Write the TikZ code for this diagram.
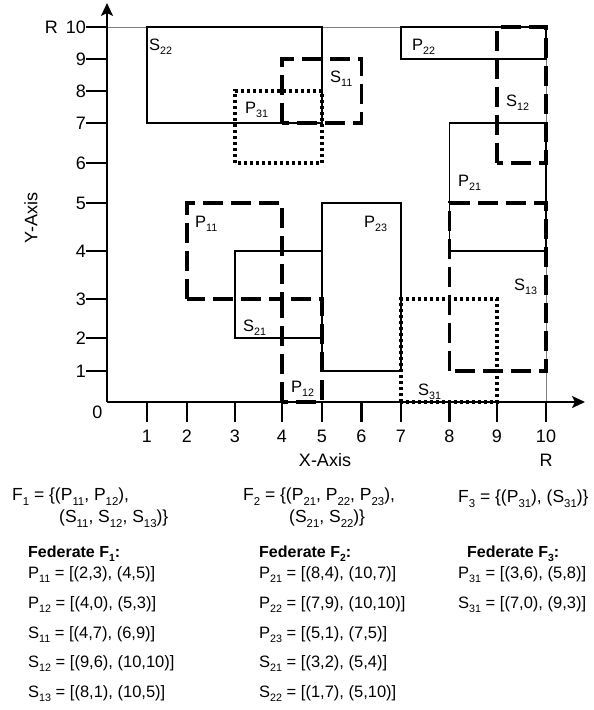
\documentclass[tikz,border=0pt]{standalone}
\usepackage{fontspec}
\usepackage{graphicx}
\setmainfont{Liberation Sans}
\usetikzlibrary{arrows.meta}
\newcommand{\sbs}[1]{\raisebox{-0.3em}{\scalebox{0.65}{#1}}}
\begin{document}
\begin{tikzpicture}[x=1pt,y=-1pt,
  solidbox/.style={line width=1.7pt},
  dashbox/.style={line width=3.3pt,dash pattern=on 20pt off 8pt},
  dotbox/.style={line width=3.5pt,dash pattern=on 3pt off 3pt},
  axisline/.style={line width=2.2pt},
  rline/.style={line width=0.9pt,gray},
  lbl/.style={font=\fontsize{16.5}{19}\selectfont,inner sep=0pt,anchor=base west},
  ticklbl/.style={font=\fontsize{18}{21}\selectfont,inner sep=0pt},
  ftext/.style={font=\fontsize{17.5}{20}\selectfont,inner sep=0pt,anchor=base west},
  htext/.style={font=\fontsize{16}{19}\selectfont\bfseries,inner sep=0pt,anchor=base west},
  ltext/.style={font=\fontsize{16.5}{19}\selectfont,inner sep=0pt,anchor=base west},
]
\useasboundingbox (0,0) rectangle (594,710);
% grid coordinates
\foreach \i/\v in {0/107,1/147,2/187,3/235,4/282,5/322,6/361.5,7/401,8/449.5,9/497,10/546}
  \coordinate (X\i) at (\v,402);
\foreach \i/\v in {0/402,1/371,2/338,3/299,4/251,5/203,6/163,7/123,8/91,9/59,10/27}
  \coordinate (Y\i) at (107,\v);
\coordinate (xtip) at (585,402);
\coordinate (ytip) at (107,3);
% region R
\draw[rline] (Y10) -- (X10|-Y10) -- (X10);
% rectangles
\draw[solidbox] (X1|-Y7) rectangle (X5|-Y10);   % S22
\draw[solidbox] (X7|-Y9) rectangle (X10|-Y10);  % P22
\draw[solidbox] (X8|-Y4) rectangle (X10|-Y7);   % P21
\draw[solidbox] (X5|-Y1) rectangle (X7|-Y5);    % P23
\draw[solidbox] (X3|-Y2) rectangle (X5|-Y4);    % S21
\draw[dashbox] (X4|-Y7) rectangle (X6|-Y9);     % S11
\draw[dashbox] (X9|-Y6) rectangle (X10|-Y10);   % S12
\draw[dashbox] (X8|-Y1) rectangle (X10|-Y5);    % S13
\draw[dashbox] (X2|-Y3) rectangle (X4|-Y5);     % P11
\draw[dashbox] (X4|-Y0) rectangle (X5|-Y3);     % P12
\draw[dotbox] (X3|-Y6) rectangle (X5|-Y8);      % P31
\draw[dotbox] (X7|-Y0) rectangle (X9|-Y3);      % S31
% axes
\draw[axisline,-{Stealth[length=13pt,width=12pt,inset=3pt]}] (X0) -- (xtip);
\draw[axisline,-{Stealth[length=13pt,width=12pt,inset=3pt]}] (Y0) -- (ytip);
\foreach \i/\v in {1/147,2/187,3/235,4/282,5/322,6/361.5,7/401,8/449.5,9/497,10/546}{
  \draw[axisline] (X\i) -- ++(0,20);
  \node[ticklbl] (xl\i) at (\v,436) {\i};
}
\foreach \i/\v in {1/371,2/338,3/299,4/251,5/203,6/163,7/123,8/91,9/59}{
  \draw[axisline] (Y\i) -- ++(-21,0);
  \node[ticklbl,anchor=east] (yl\i) at (86,\v) {\i};
}
\draw[axisline] (Y10) -- ++(-21,0);
\node[ticklbl,anchor=east] (yl10) at (86,27) {R\hspace{8pt}10};
\node[ticklbl] (zero) at (97.5,412) {0};
\node[ticklbl] (rlabel) at (546,460) {R};
\node[ticklbl] (xaxis) at (325,460) {X-Axis};
\node[ticklbl,rotate=90] (yaxis) at (31,218) {Y-Axis};
% region labels
\node[lbl] (lS22) at (149,50) {S\sbs{22}};
\node[lbl] (lP31) at (245,113) {P\sbs{31}};
\node[lbl] (lS11) at (330,82) {S\sbs{11}};
\node[lbl] (lP22) at (412,50) {P\sbs{22}};
\node[lbl] (lS12) at (506,106) {S\sbs{12}};
\node[lbl] (lP21) at (458,186) {P\sbs{21}};
\node[lbl] (lP11) at (195,227) {P\sbs{11}};
\node[lbl] (lP23) at (364,227) {P\sbs{23}};
\node[lbl] (lS13) at (514,290) {S\sbs{13}};
\node[lbl] (lS21) at (243,331) {S\sbs{21}};
\node[lbl] (lP12) at (291,392) {P\sbs{12}};
\node[lbl] (lS31) at (418,395) {S\sbs{31}};
% federation sets
\node[ftext] (f1a) at (12,500) {F\sbs{1} = \{(P\sbs{11}, P\sbs{12}),};
\node[ftext] (f1b) at (59,522) {(S\sbs{11}, S\sbs{12}, S\sbs{13})\}};
\node[ftext] (f2a) at (243,500) {F\sbs{2} = \{(P\sbs{21}, P\sbs{22}, P\sbs{23}),};
\node[ftext] (f2b) at (289,522) {(S\sbs{21}, S\sbs{22})\}};
\node[ftext] (f3a) at (458,502) {F\sbs{3} = \{(P\sbs{31}), (S\sbs{31})\}};
% headings
\node[htext] (h1) at (28,557) {Federate F\sbs{1}:};
\node[htext] (h2) at (259,557) {Federate F\sbs{2}:};
\node[htext] (h3) at (467,557) {Federate F\sbs{3}:};
% lists
\node[ltext] (a1) at (28,578) {P\sbs{11} = [(2,3), (4,5)]};
\node[ltext] (a2) at (28,608) {P\sbs{12} = [(4,0), (5,3)]};
\node[ltext] (a3) at (28,638) {S\sbs{11} = [(4,7), (6,9)]};
\node[ltext] (a4) at (28,667) {S\sbs{12} = [(9,6), (10,10)]};
\node[ltext] (a5) at (28,697) {S\sbs{13} = [(8,1), (10,5)]};
\node[ltext] (b1) at (259,578) {P\sbs{21} = [(8,4), (10,7)]};
\node[ltext] (b2) at (259,608) {P\sbs{22} = [(7,9), (10,10)]};
\node[ltext] (b3) at (259,638) {P\sbs{23} = [(5,1), (7,5)]};
\node[ltext] (b4) at (259,667) {S\sbs{21} = [(3,2), (5,4)]};
\node[ltext] (b5) at (259,697) {S\sbs{22} = [(1,7), (5,10)]};
\node[ltext] (c1) at (458,578) {P\sbs{31} = [(3,6), (5,8)]};
\node[ltext] (c2) at (458,608) {S\sbs{31} = [(7,0), (9,3)]};
\end{tikzpicture}
\end{document}
